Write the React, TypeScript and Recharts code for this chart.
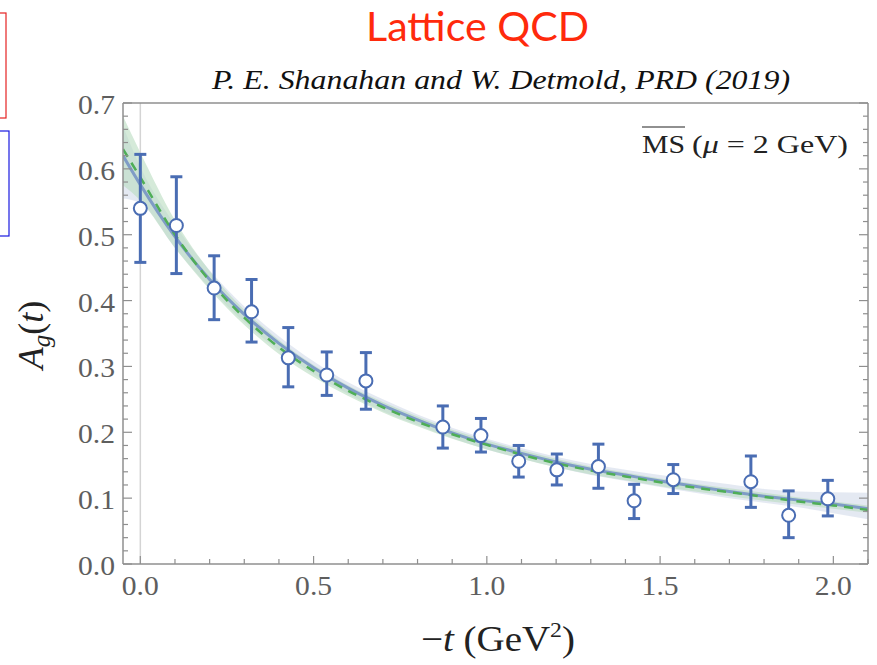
import React from 'react';
import { ComposedChart, XAxis, YAxis, Area, Line, Scatter, ErrorBar, ReferenceLine } from 'recharts';

// lattice points: -t, A_g, top and bottom of the error bar
const pointT = [0, 0.104, 0.213, 0.321, 0.427, 0.538, 0.651, 0.873, 0.983, 1.092, 1.202, 1.322, 1.425, 1.538, 1.762, 1.871, 1.984];
const pointA = [0.540, 0.514, 0.419, 0.383, 0.313, 0.287, 0.278, 0.208, 0.195, 0.156, 0.143, 0.148, 0.096, 0.128, 0.125, 0.074, 0.099];
const pointHi = [0.622, 0.588, 0.468, 0.432, 0.359, 0.322, 0.321, 0.240, 0.221, 0.180, 0.167, 0.182, 0.121, 0.151, 0.164, 0.111, 0.127];
const pointLo = [0.458, 0.441, 0.371, 0.337, 0.269, 0.256, 0.235, 0.176, 0.170, 0.132, 0.120, 0.115, 0.069, 0.107, 0.086, 0.040, 0.073];

// fit curves and their bands, read at these -t values
const fitT = [-0.05, 0, 0.1, 0.2, 0.3, 0.4, 0.5, 0.6, 0.7, 0.8, 0.9, 1.0, 1.1, 1.2, 1.3, 1.4, 1.5, 1.6, 1.7, 1.8, 1.9, 2.0, 2.1];
const blueFit = [0.620, 0.576, 0.497, 0.432, 0.379, 0.335, 0.298, 0.267, 0.241, 0.219, 0.199, 0.182, 0.168, 0.155, 0.144, 0.135, 0.126, 0.118, 0.110, 0.103, 0.097, 0.091, 0.084];
const blueLo = [0.555, 0.548, 0.480, 0.419, 0.367, 0.324, 0.288, 0.258, 0.232, 0.211, 0.191, 0.174, 0.160, 0.147, 0.135, 0.126, 0.117, 0.108, 0.100, 0.093, 0.086, 0.077, 0.068];
const blueHi = [0.665, 0.603, 0.515, 0.446, 0.391, 0.346, 0.308, 0.276, 0.250, 0.227, 0.207, 0.190, 0.176, 0.163, 0.152, 0.143, 0.135, 0.128, 0.121, 0.114, 0.110, 0.109, 0.108];
const greenFit = [0.630, 0.587, 0.500, 0.430, 0.374, 0.329, 0.293, 0.263, 0.238, 0.216, 0.197, 0.181, 0.166, 0.153, 0.142, 0.133, 0.124, 0.116, 0.109, 0.102, 0.095, 0.089, 0.082];
const greenLo = [0.575, 0.552, 0.480, 0.417, 0.363, 0.319, 0.284, 0.255, 0.230, 0.209, 0.190, 0.174, 0.160, 0.147, 0.136, 0.127, 0.118, 0.110, 0.103, 0.096, 0.090, 0.084, 0.078];
const greenHi = [0.680, 0.625, 0.522, 0.445, 0.386, 0.340, 0.302, 0.271, 0.246, 0.224, 0.204, 0.188, 0.173, 0.160, 0.148, 0.139, 0.130, 0.122, 0.115, 0.108, 0.101, 0.095, 0.089];

const xTicks = [0, 0.1, 0.2, 0.3, 0.4, 0.5, 0.6, 0.7, 0.8, 0.9, 1.0, 1.1, 1.2, 1.3, 1.4, 1.5, 1.6, 1.7, 1.8, 1.9, 2.0, 2.1];
const xLabels = [0, 0.5, 1.0, 1.5, 2.0];
const yTicks = [0, 0.02, 0.04, 0.06, 0.08, 0.1, 0.12, 0.14, 0.16, 0.18, 0.2, 0.22, 0.24, 0.26, 0.28, 0.3, 0.32, 0.34, 0.36, 0.38, 0.4, 0.42, 0.44, 0.46, 0.48, 0.5, 0.52, 0.54, 0.56, 0.58, 0.6, 0.62, 0.64, 0.66, 0.68, 0.7];
const yLabels = [0, 0.1, 0.2, 0.3, 0.4, 0.5, 0.6, 0.7];

const points = pointT.map((t, i) => ({ t, a: pointA[i], err: [pointA[i] - pointLo[i], pointHi[i] - pointA[i]] }));
const fitRows = fitT.map((t, i) => ({
  t,
  blue: blueFit[i],
  green: greenFit[i],
  blueBand: [blueLo[i], blueHi[i]],
  greenBand: [greenLo[i], greenHi[i]],
}));

const FRAME = '#8f8f8f';
const LABEL = '#5e5e5e';
const POINT = '#4a6db3';
const SERIF = '"Liberation Serif", "DejaVu Serif", serif';

const isMajor = (list: number[], v: number) => list.some((m) => Math.abs(m - v) < 1e-9);

const BottomTick = ({ x, y, payload }: any) => {
  const major = isMajor(xLabels, payload.value);
  return (
    <g>
      <line x1={x} y1={y} x2={x} y2={y - (major ? 8 : 5)} stroke={FRAME} strokeWidth={1.2} />
      {major && (
        <text x={x} y={y + 31} textAnchor="middle" textLength={37} lengthAdjust="spacingAndGlyphs" fontFamily={SERIF} fontSize={28} fill={LABEL}>
          {payload.value.toFixed(1)}
        </text>
      )}
    </g>
  );
};

const TopTick = ({ x, y, payload }: any) => {
  const major = isMajor(xLabels, payload.value);
  return <line x1={x} y1={y} x2={x} y2={y + (major ? 8 : 5)} stroke={FRAME} strokeWidth={1.2} />;
};

const LeftTick = ({ x, y, payload }: any) => {
  const major = isMajor(yLabels, payload.value);
  return (
    <g>
      <line x1={x} y1={y} x2={x + (major ? 9 : 5)} y2={y} stroke={FRAME} strokeWidth={1.2} />
      {major && (
        <text x={x - 8} y={y + 11} textAnchor="end" textLength={37} lengthAdjust="spacingAndGlyphs" fontFamily={SERIF} fontSize={28} fill={LABEL}>
          {payload.value.toFixed(1)}
        </text>
      )}
    </g>
  );
};

const RightTick = ({ x, y, payload }: any) => {
  const major = isMajor(yLabels, payload.value);
  return <line x1={x} y1={y} x2={x - (major ? 9 : 5)} y2={y} stroke={FRAME} strokeWidth={1.2} />;
};

const OpenCircle = ({ cx, cy }: any) => (
  <circle cx={cx} cy={cy} r={6.5} fill="#ffffff" stroke={POINT} strokeWidth={2} />
);

export default function App() {
  return (
    <div style={{ position: 'absolute', left: 0, top: 0, width: 877, height: 665, background: '#fff', overflow: 'hidden' }}>
      <ComposedChart width={877} height={665} margin={{ top: 102, right: 8, bottom: 100, left: 122 }}>
        <XAxis
          dataKey="t"
          type="number"
          domain={[-0.05, 2.1]}
          allowDataOverflow
          ticks={xTicks}
          interval={0}
          height={1}
          tickLine={false}
          tickSize={0}
          tickMargin={0}
          tick={BottomTick}
          axisLine={{ stroke: FRAME, strokeWidth: 1.5 }}
        />
        <XAxis
          xAxisId="top"
          orientation="top"
          type="number"
          domain={[-0.05, 2.1]}
          allowDataOverflow
          ticks={xTicks}
          interval={0}
          height={1}
          tickLine={false}
          tickSize={0}
          tickMargin={0}
          tick={TopTick}
          axisLine={{ stroke: FRAME, strokeWidth: 1.5 }}
        />
        <YAxis
          type="number"
          domain={[0, 0.7]}
          allowDataOverflow
          ticks={yTicks}
          interval={0}
          width={1}
          tickLine={false}
          tickSize={0}
          tickMargin={0}
          tick={LeftTick}
          axisLine={{ stroke: FRAME, strokeWidth: 1.5 }}
        />
        <YAxis
          yAxisId="right"
          orientation="right"
          type="number"
          domain={[0, 0.7]}
          allowDataOverflow
          ticks={yTicks}
          interval={0}
          width={1}
          tickLine={false}
          tickSize={0}
          tickMargin={0}
          tick={RightTick}
          axisLine={{ stroke: FRAME, strokeWidth: 1.5 }}
        />
        <ReferenceLine x={0} stroke="#d4d4d4" strokeWidth={1.5} />
        <Area
          data={fitRows}
          dataKey="blueBand"
          type="monotone"
          stroke="none"
          fill="#dfe5f0"
          fillOpacity={0.85}
          isAnimationActive={false}
        />
        <Area
          data={fitRows}
          dataKey="greenBand"
          type="monotone"
          stroke="none"
          fill="#b9dcc0"
          fillOpacity={0.6}
          isAnimationActive={false}
        />
        <Line
          data={fitRows}
          dataKey="blue"
          type="monotone"
          stroke="#7f9cc6"
          strokeWidth={3}
          dot={false}
          isAnimationActive={false}
        />
        <Line
          data={fitRows}
          dataKey="green"
          type="monotone"
          stroke="#4fae57"
          strokeWidth={2.5}
          strokeDasharray="9 7"
          dot={false}
          isAnimationActive={false}
        />
        <Scatter data={points} dataKey="a" shape={OpenCircle} isAnimationActive={false}>
          <ErrorBar dataKey="err" direction="y" width={6} stroke={POINT} strokeWidth={3} isAnimationActive={false} />
        </Scatter>
      </ComposedChart>

      <svg width={877} height={665} style={{ position: 'absolute', left: 0, top: 0, pointerEvents: 'none' }}>
        <rect x={-20} y={13} width={26} height={105} fill="none" stroke="#e52222" strokeWidth={1.2} />
        <rect x={-20} y={131} width={29} height={105} fill="none" stroke="#1a1ae0" strokeWidth={1.2} />

        <text x={366} y={41} textLength={223} lengthAdjust="spacingAndGlyphs" fontFamily="Lato, 'Open Sans', sans-serif" fontSize={40} fill="#ff2a0c">
          Lattice QCD
        </text>
        <text x={212} y={89} textLength={578} lengthAdjust="spacingAndGlyphs" fontFamily={SERIF} fontStyle="italic" fontSize={28} fill="#111">
          P. E. Shanahan and W. Detmold, PRD (2019)
        </text>

        <line x1={642} y1={127} x2={685} y2={127} stroke="#222" strokeWidth={1.2} />
        <text x={642} y={153} textLength={43} lengthAdjust="spacingAndGlyphs" fontFamily={SERIF} fontSize={26} fill="#222">
          MS
        </text>
        <text x={692} y={153} textLength={156} lengthAdjust="spacingAndGlyphs" fontFamily={SERIF} fontSize={26} fill="#222">
          (<tspan fontStyle="italic">μ</tspan> = 2 GeV)
        </text>

        <text
          x={43}
          y={335}
          transform="rotate(-90, 43, 335)"
          textAnchor="middle"
          fontFamily={SERIF}
          fontSize={36}
          fill="#222"
        >
          <tspan fontStyle="italic">A</tspan>
          <tspan fontStyle="italic" fontSize={25} dy={7}>g</tspan>
          <tspan dy={-7}>(</tspan>
          <tspan fontStyle="italic">t</tspan>)
        </text>

        <text x={498} y={651} textAnchor="middle" textLength={154} lengthAdjust="spacingAndGlyphs" fontFamily={SERIF} fontSize={36} fill="#222">
          −<tspan fontStyle="italic">t</tspan> (GeV<tspan fontSize={22} dy={-14}>2</tspan><tspan dy={14}>)</tspan>
        </text>
      </svg>
    </div>
  );
}
